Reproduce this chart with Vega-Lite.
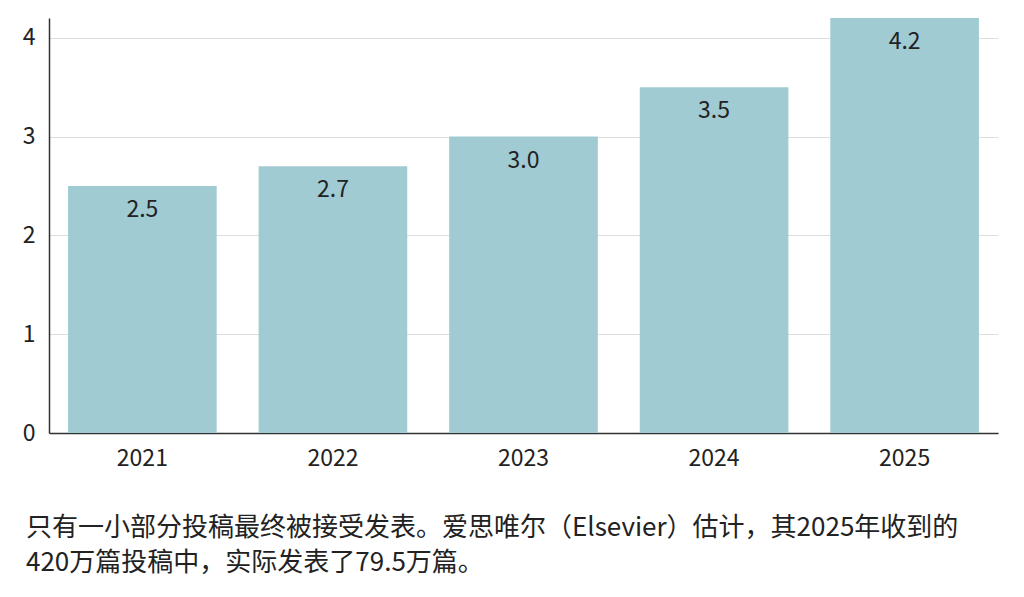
{
  "$schema": "https://vega.github.io/schema/vega-lite/v6.json",
  "width": 949,
  "height": 415,
  "autosize": "none",
  "padding": {"left": 49, "top": 18, "right": 26, "bottom": 164},
  "background": "#ffffff",
  "config": {
    "font": "Noto Sans CJK SC",
    "view": {"stroke": null}
  },
  "title": {
    "text": ["只有一小部分投稿最终被接受发表。爱思唯尔（Elsevier）估计，其2025年收到的", "420万篇投稿中，实际发表了79.5万篇。"],
    "orient": "bottom",
    "anchor": "start",
    "frame": "group",
    "dx": -23,
    "offset": 45,
    "fontSize": 26,
    "fontWeight": "normal",
    "lineHeight": 35,
    "color": "#222222",
    "font": "Noto Sans CJK SC"
  },
  "data": {
    "values": [
      {"year": "2021", "value": 2.5},
      {"year": "2022", "value": 2.7},
      {"year": "2023", "value": 3.0},
      {"year": "2024", "value": 3.5},
      {"year": "2025", "value": 4.2}
    ]
  },
  "encoding": {
    "x": {
      "field": "year",
      "type": "nominal",
      "sort": null,
      "scale": {"paddingInner": 0.22, "paddingOuter": 0.1},
      "axis": {
        "title": null,
        "labelAngle": 0,
        "labelFontSize": 23,
        "labelColor": "#222222",
        "labelPadding": 14,
        "ticks": false,
        "domainColor": "#333333",
        "domainWidth": 1.5,
        "grid": false
      }
    },
    "y": {
      "field": "value",
      "type": "quantitative",
      "scale": {"domain": [0, 4.2], "nice": false},
      "axis": {
        "title": null,
        "values": [0, 1, 2, 3, 4],
        "labelFontSize": 23,
        "labelColor": "#222222",
        "labelPadding": 14,
        "ticks": false,
        "domainColor": "#333333",
        "domainWidth": 1.5,
        "gridColor": "#dddddd",
        "gridWidth": 1
      }
    }
  },
  "layer": [
    {
      "mark": {"type": "bar", "color": "#a0cbd3"}
    },
    {
      "mark": {"type": "text", "baseline": "top", "dy": 13, "fontSize": 23, "color": "#222222"},
      "encoding": {
        "text": {"field": "value", "type": "quantitative", "format": ".1f"}
      }
    }
  ]
}
